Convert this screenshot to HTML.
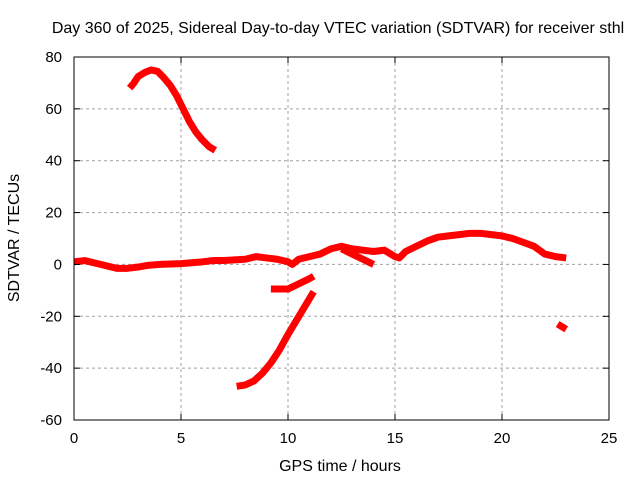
<!DOCTYPE html>
<html><head><meta charset="utf-8"><style>
body{margin:0;background:#fff}
svg text{font-family:"Liberation Sans",sans-serif;font-size:15px;fill:#000}
svg text.big{font-size:16px}
</style></head><body>
<svg id="chart" width="640" height="480" xmlns="http://www.w3.org/2000/svg">
<rect width="640" height="480" fill="#fff"/>
<text class="big" x="338" y="33" text-anchor="middle">Day 360 of 2025, Sidereal Day-to-day VTEC variation (SDTVAR) for receiver sthl</text>
<text class="big" x="340" y="471" text-anchor="middle">GPS time / hours</text>
<text class="big" transform="translate(19,238) rotate(-90)" text-anchor="middle">SDTVAR / TECUs</text>
<g id="grid"></g><g id="series"></g><g id="axes"></g>
</svg>
<script>
const xTicks=[0,5,10,15,20,25];
const yTicks=[-60,-40,-20,0,20,40,60,80];
const mainSeries=[[0,1],[0.5,1.5],[1,0.5],[1.5,-0.5],[2,-1.5],[2.5,-1.5],[3,-1],[3.5,-0.3],[4,0],[5,0.3],[6,1],[6.5,1.5],[7,1.5],[8,2],[8.5,3],[9,2.5],[9.5,2],[10,1],[10.2,0],[10.5,2],[11,3],[11.5,4],[12,6],[12.5,7],[13,6],[13.5,5.5],[14,5],[14.5,5.5],[15,3],[15.2,2.5],[15.5,5],[16,7],[16.5,9],[17,10.5],[17.5,11],[18,11.5],[18.5,12],[19,12],[19.5,11.5],[20,11],[20.5,10],[21,8.5],[21.5,7],[22,4],[22.5,3],[23,2.5]];
const branchSeries=[[12.5,6],[13,4],[13.5,2],[14,0]];
const arcSeries=[[2.6,68],[2.8,70],[3,72.5],[3.3,74],[3.6,75],[3.9,74.5],[4.2,72],[4.5,69],[4.8,65],[5.1,60],[5.4,55],[5.7,51],[6,48],[6.3,45.5],[6.6,44]];
const dipSeries=[[9.2,-9.5],[10,-9.5],[10.5,-7.5],[11,-5.5],[11.2,-4.5]];
const riseSeries=[[7.6,-47],[8,-46.5],[8.4,-45],[8.8,-42],[9.2,-38],[9.6,-33],[10,-27],[10.4,-21.5],[10.8,-16],[11.2,-10.5]];
const endSeries=[[22.6,-23],[23,-25]];
const X0=74,X1=609,Y0=420,Y1=57;
const sx=v=>X0+(v-0)/25*(X1-X0);
const sy=v=>Y0-(v+60)/140*(Y0-Y1);
const NS="http://www.w3.org/2000/svg";
function mk(t,a,p){const e=document.createElementNS(NS,t);for(const k in a)e.setAttribute(k,a[k]);p.appendChild(e);return e;}
const grid=document.getElementById('grid'),axes=document.getElementById('axes'),ser=document.getElementById('series');
xTicks.forEach(t=>{const x=sx(t);
 if(t>0&&t<25){const g=mk('line',{x1:x,x2:x,y1:Y1,y2:Y0,stroke:'#a0a0a0','stroke-dasharray':'3,3'},grid);}
 const tk=mk('line',{x1:x,x2:x,y1:Y0,y2:Y0-6,stroke:'#000'},axes);
 const tk2=mk('line',{x1:x,x2:x,y1:Y1,y2:Y1+6,stroke:'#000'},axes);
 const l=mk('text',{x:x,y:443,'text-anchor':'middle'},axes);l.textContent=t;});
yTicks.forEach(t=>{const y=sy(t);
 if(t>-60&&t<80){const g=mk('line',{x1:X0,x2:X1,y1:y,y2:y,stroke:'#a0a0a0','stroke-dasharray':'3,3'},grid);}
 const tk=mk('line',{x1:X0,x2:X0+6,y1:y,y2:y,stroke:'#000'},axes);
 const tk2=mk('line',{x1:X1,x2:X1-6,y1:y,y2:y,stroke:'#000'},axes);
 const l=mk('text',{x:62,y:y+5,'text-anchor':'end'},axes);l.textContent=t;});
const fr=mk('rect',{x:X0,y:Y1,width:X1-X0,height:Y0-Y1,fill:'none',stroke:'#000'},axes);

[[mainSeries,'sdtvar-main'],[branchSeries,'sdtvar-branch'],[arcSeries,'sdtvar-arc'],[dipSeries,'sdtvar-dip'],[riseSeries,'sdtvar-rise'],[endSeries,'sdtvar-end']].forEach(([d,n])=>{
 const p=mk('polyline',{points:d.map(q=>sx(q[0])+','+sy(q[1])).join(' '),fill:'none',stroke:'#ff0000','stroke-width':7,'stroke-linejoin':'round','stroke-linecap':'butt'},ser);
 
 
});
</script>
</body></html>
